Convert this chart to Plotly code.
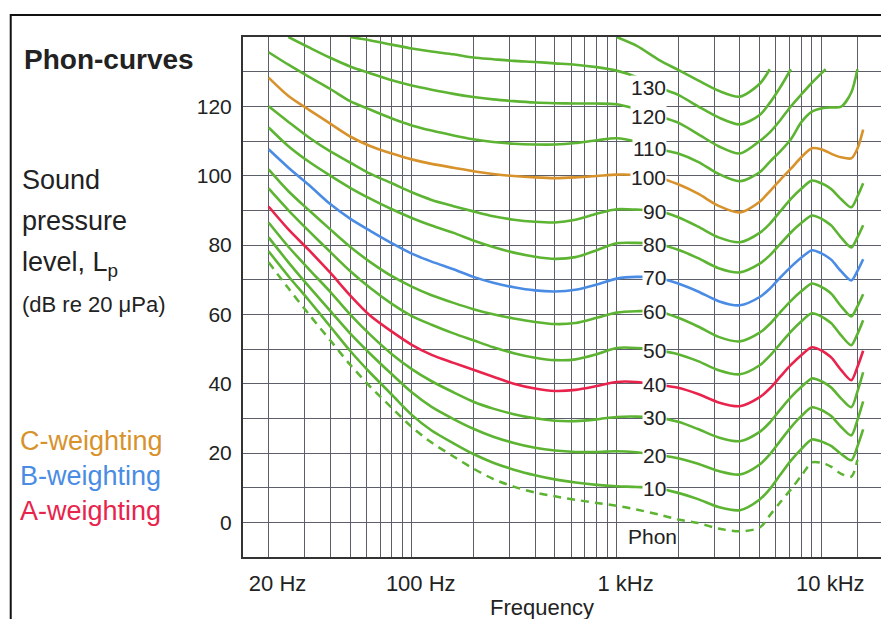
import math
import plotly.graph_objects as go

N = None

# Frequency sampling points (Hz)
FREQ = [20, 25, 31.5, 40, 50, 63, 80, 100, 125, 160, 200, 250, 315, 400, 500, 630, 800, 1000,
        1250, 1600, 2000, 2500, 3150, 4000, 5000, 5600, 6300, 7100, 8000, 9000, 10000, 10500,
        11200, 12500, 14000, 15000, 16000]

# Sound pressure level (dB) of each equal-loudness contour
PHON_140 = [N] * 17 + [140, 137.5, 133.5, 130.5, 127.5, 124.5, 122.8, 126.5, 130.7] + [N] * 11
PHON_130 = [N, N, N, N, 140, 139, 137.8, 136.7, 135.8, 135, 134.1, 133.6, 133.1, 132.8, 132.4, 132,
            131.3, 130.3, 128.5, 125.5, 123.3, 120, 116.8, 114.8, 117.5, 121, 125.5, 130.7,
            N, N, N, N, N, N, N, N, N]
PHON_120 = [N, 140, 137, 134, 131.5, 129.5, 127.5, 126, 124.8, 123.6, 122.7, 122, 121.5, 121.1,
            120.9, 120.8, 120.8, 120.6, 119.2, 117.2, 115.3, 112, 108.5, 106.4, 110, 112.5, 116,
            120, 123.5, 126.8, 129.5, 130.7, N, N, N, N, N]
PHON_110 = [135.6, 132, 128.5, 125, 121.5, 119, 116.5, 114.5, 113, 111.6, 110.5, 109.7, 109.2, 109,
            109, 109.4, 110.2, 110.8, 109.8, 107.7, 106.4, 104, 100.5, 98.4, 101, 104, 107, 110.5,
            115.5, 118.5, 119.4, 119.6, 119.7, 119.9, 124, 130.7, N]
PHON_100 = [128.3, 123, 119, 115, 111.3, 108.5, 106.4, 104.7, 103.4, 102.3, 101.3, 100.5, 99.9,
            99.5, 99.3, 99.5, 99.9, 100.3, 100.2, 99.4, 97.5, 94.8, 91.3, 89.4, 92.5, 95.5, 98.8,
            102, 105.4, 107.9, 107.6, 107.1, 106.3, 105.3, 105, 107.8, 113.3]
PHON_90 = [120, 115.5, 111, 107, 103.8, 100.5, 97.8, 95.2, 93, 91.2, 89.7, 88.3, 87.3, 86.7, 86.5,
           87.3, 89, 90.3, 90.2, 89.8, 88, 85.3, 82.2, 80.8, 83.5, 86.1, 89.7, 93.3, 96.3, 98.6,
           97.8, 97.2, 96.1, 93.2, 90.9, 94, 97.8]
PHON_80 = [113.9, 108.5, 104, 100, 96.5, 93.3, 90.3, 87.8, 85.6, 83.5, 81.3, 79.4, 77.8, 76.6, 76,
           76.5, 78.5, 80.5, 80.6, 80.2, 78.6, 76.2, 73.3, 72.1, 74.6, 77, 80.3, 83.6, 86.4, 88.5,
           87.6, 86.8, 85.6, 82.1, 79.3, 82.2, 85.7]
PHON_70 = [107.6, 102.3, 97.3, 91.8, 87.6, 84, 80.5, 77.5, 75.2, 73, 70.8, 69.1, 67.8, 66.9, 66.6,
           67.1, 68.6, 70.3, 70.8, 70.5, 68.9, 66.6, 63.8, 62.6, 65, 67.4, 70.6, 73.7, 76.4, 78.5,
           77.6, 76.9, 75.7, 72.4, 69.8, 72.5, 75.9]
PHON_60 = [101.8, 95.5, 90, 84.5, 79.5, 75, 71, 68, 65.5, 63.3, 61.5, 60, 58.8, 57.8, 57.2, 57.5,
           59, 60.5, 60.9, 60.8, 59, 56.5, 53.5, 52.2, 54.7, 57.2, 60.6, 63.9, 66.7, 68.9, 67.9,
           67.2, 65.9, 62.3, 59.4, 62.3, 65.8]
PHON_50 = [96.3, 90, 84, 78, 72.5, 67.5, 63, 59.5, 57, 54.5, 52.5, 50.5, 48.8, 47.5, 46.8, 47, 48.5,
           50.3, 50.3, 49.6, 48.5, 46.5, 43.9, 42.7, 45.3, 48, 51.5, 55, 58, 60.3, 59.4, 58.6, 57.4,
           53.9, 51.1, 54.3, 58.3]
PHON_40 = [91.1, 84.5, 78.5, 72, 65.5, 59.5, 55, 51.2, 48.3, 46, 44, 42, 40, 38.6, 37.9, 38.2, 39.3,
           40.5, 40.5, 39.7, 38.8, 37, 34.6, 33.5, 36.1, 38.6, 42, 45.4, 48.3, 50.5, 49.6, 48.8,
           47.5, 43.9, 41, 44.8, 49.5]
PHON_30 = [86.5, 79.5, 73, 66.5, 60, 54, 48.5, 44.2, 40.7, 37.5, 34.8, 32.8, 31.2, 30, 29.3, 29.2,
           29.7, 30.4, 30.5, 30.2, 29, 26.9, 24.5, 23.4, 26.1, 28.8, 32.5, 36.1, 39.1, 41.5, 40.7,
           40, 38.8, 35.7, 33.2, 37.7, 43.3]
PHON_20 = [82.2, 75, 68, 61, 54.5, 48.5, 42.7, 37.5, 33.3, 29.8, 27, 24.7, 22.9, 21.5, 20.7, 20.3,
           20.3, 20.5, 20.2, 19.4, 18.5, 16.9, 14.8, 13.8, 16.7, 19.6, 23.5, 27.4, 30.7, 33.2, 32.4,
           31.7, 30.6, 27.5, 25.1, 29.5, 34.9]
PHON_10 = [78.2, 71, 64, 56.5, 49.5, 43, 36.8, 31, 26.5, 22.8, 19.7, 17.2, 15.2, 13.6, 12.4, 11.5,
           10.8, 10.4, 10.2, 9.8, 8.5, 6.7, 4.4, 3.5, 6.6, 9.6, 13.7, 17.8, 21.2, 23.9, 23.3, 22.8,
           22, 19.7, 17.9, 21.9, 26.8]
THRESHOLD = [75, 67.5, 60, 52.5, 45.5, 39, 33, 27.5, 23, 19, 15.5, 12.5, 10.3, 8.6, 7.5, 6.5, 5.6,
             4.8, 3.7, 2.3, 0.8, -0.2, -1.8, -2.6, -1.5, 2, 5.8, 9.5, 13.5, 17.3, 17.2, 16.8, 16,
             14, 13.2, 18, N]

# Axis grid / tick labels
X_GRID = [20, 30, 40, 50, 60, 70, 80, 90, 100, 200, 300, 400, 500, 600, 700, 800, 900,
          1000, 2000, 3000, 4000, 5000, 6000, 7000, 8000, 9000, 10000, 15000]
X_TEXT = ["20 Hz", "", "", "", "", "", "", "", "100 Hz", "", "", "", "", "", "", "", "",
          "1 kHz", "", "", "", "", "", "", "", "", "10 kHz", ""]
Y_GRID = [0, 10, 20, 30, 40, 50, 60, 70, 80, 90, 100, 110, 120, 130]
Y_TEXT = ["0", "", "20", "", "40", "", "60", "", "80", "", "100", "", "120", ""]

LABEL_FREQ = 1768  # right edge of the phon numbers
LABEL_IDX = FREQ.index(1600)

GREEN = "#5cb432"
ORANGE = "#d8922c"
BLUE = "#4a8ce4"
RED = "#e8244c"
GRID = "#5c5f6a"
TEXT = "#222222"
FONT = "Liberation Sans, Arial, Helvetica, sans-serif"

CURVES = [
    (140, PHON_140, GREEN), (130, PHON_130, GREEN), (120, PHON_120, GREEN),
    (110, PHON_110, GREEN), (100, PHON_100, ORANGE), (90, PHON_90, GREEN),
    (80, PHON_80, GREEN), (70, PHON_70, BLUE), (60, PHON_60, GREEN),
    (50, PHON_50, GREEN), (40, PHON_40, RED), (30, PHON_30, GREEN),
    (20, PHON_20, GREEN), (10, PHON_10, GREEN),
]

# the page shows the figure with an 8 px body margin
OFF = 8
W, H = 889 - OFF, 619 - OFF
PL, PR, PT, PB = 243, 885, 37, 557          # plot box in window pixels
ML, MT = PL - OFF, PT - OFF
MR, MB = W - (PR - OFF), H - (PB - OFF)
PW, PH = PR - PL, PB - PT


def px_x(px):
    return (px - PL) / PW


def px_y(py):
    return (PB - py) / PH


fig = go.Figure()

fig.add_trace(go.Scatter(
    x=FREQ, y=THRESHOLD, mode="lines", connectgaps=True, hoverinfo="skip", showlegend=False,
    line=dict(color=GREEN, width=2.5, dash="8px,6px", shape="spline", smoothing=0.8)))

for phon, vals, col in CURVES:
    fig.add_trace(go.Scatter(
        x=FREQ, y=vals, mode="lines", connectgaps=True, hoverinfo="skip", showlegend=False,
        line=dict(color=col, width=2.6, shape="spline", smoothing=0.8)))

annotations = []
for phon, vals, col in CURVES:
    if phon == 140:
        continue
    annotations.append(dict(
        x=math.log10(LABEL_FREQ), y=vals[LABEL_IDX], xref="x", yref="y",
        text=str(phon), showarrow=False, xanchor="right", yanchor="middle",
        font=dict(size=21, color=TEXT, family=FONT), bgcolor="white", borderpad=0))

annotations.append(dict(
    x=math.log10(1500), y=-4, xref="x", yref="y", text="Phon", showarrow=False,
    xanchor="center", yanchor="middle", font=dict(size=21, color=TEXT, family=FONT)))

left_texts = [
    ("<b>Phon-curves</b>", 21, 60, 28, TEXT),
    ("Sound", 19, 180, 27, TEXT),
    ("pressure", 19, 221, 27, TEXT),
    ("level, L<sub>p</sub>", 19, 264, 27, TEXT),
    ("(dB re 20 μPa)", 19, 304, 22, TEXT),
    ("C-weighting", 17, 441, 27, ORANGE),
    ("B-weighting", 17, 476, 27, BLUE),
    ("A-weighting", 17, 511, 27, RED),
]
for txt, lx, cy, sz, col in left_texts:
    annotations.append(dict(
        x=px_x(lx), y=px_y(cy), xref="paper", yref="paper", text=txt, showarrow=False,
        xanchor="left", yanchor="middle", font=dict(size=sz, color=col, family=FONT)))

annotations.append(dict(
    x=px_x(543), y=px_y(607), xref="paper", yref="paper", text="Frequency", showarrow=False,
    xanchor="center", yanchor="middle", font=dict(size=22, color=TEXT, family=FONT)))

fig.update_layout(
    width=W, height=H, autosize=False,
    margin=dict(l=ML, r=MR, t=MT, b=MB, pad=0),
    paper_bgcolor="white", plot_bgcolor="white",
    showlegend=False,
    font=dict(family=FONT, color=TEXT),
    annotations=annotations,
    shapes=[dict(type="rect", xref="paper", yref="paper",
                 x0=px_x(10), y0=px_y(15), x1=px_x(920), y1=px_y(660),
                 line=dict(color="#111111", width=2), fillcolor="rgba(0,0,0,0)", layer="above")],
    xaxis=dict(type="log", range=[math.log10(15), math.log10(20000)],
               tickvals=X_GRID, ticktext=X_TEXT, ticks="",
               showgrid=True, gridcolor=GRID, gridwidth=1.4,
               showline=True, linecolor="#333333", linewidth=2, mirror=True, zeroline=False,
               tickfont=dict(size=22, color=TEXT, family=FONT),
               ticklabelshift=9, ticklabelstandoff=6),
    yaxis=dict(range=[-10, 140], tickvals=Y_GRID, ticktext=Y_TEXT, ticks="",
               showgrid=True, gridcolor=GRID, gridwidth=1.4,
               showline=True, linecolor="#333333", linewidth=2, mirror=True, zeroline=False,
               tickfont=dict(size=21, color=TEXT, family=FONT),
               ticklabelstandoff=5),
)

fig.write_html("out.html")
